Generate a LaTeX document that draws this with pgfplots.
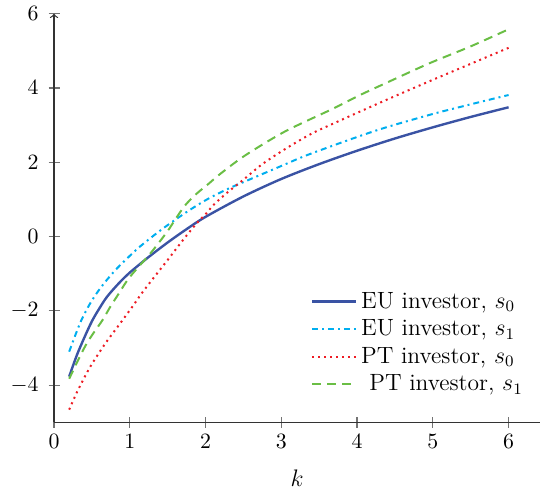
\documentclass[border=0pt]{standalone}
\usepackage{pgfplots}
\pgfplotsset{compat=1.18}
\definecolor{eublue}{RGB}{58,83,164}
\definecolor{eucyan}{RGB}{0,174,239}
\definecolor{ptred}{RGB}{237,28,36}
\definecolor{ptgreen}{RGB}{106,190,69}
\begin{document}
\begin{tikzpicture}
\begin{axis}[
  scale only axis,
  width=244pt, height=205pt,
  xmin=0, xmax=6.42, ymin=-5, ymax=6,
  axis lines=left,
  x axis line style={-},
  y axis line style={->},
  axis line style={black!80, line width=0.6pt},
  xtick={0,1,2,3,4,5,6},
  ytick={-4,-2,0,2,4,6},
  tick align=center,
  major tick length=5.5pt,
  tick style={black!55, line width=0.6pt},
  ticklabel style={font=\fontsize{10.5}{12}\selectfont},
  yticklabel style={xshift=-1.5pt},
  xlabel={$k$},
  xlabel style={font=\fontsize{12}{14}\selectfont, yshift=-3.5pt},
  legend cell align=left,
  legend style={at={(0.985,0.05)}, anchor=south east, draw=none, fill=none,
    font=\fontsize{11.8}{13}\selectfont, row sep=0.2pt},
  legend image code/.code={\draw[#1] (0pt,0pt) -- (22pt,0pt);},
]
\addplot[eublue, line width=1.2pt, smooth] coordinates {
(0.2,-3.77)(0.3,-3.2)(0.4,-2.72)(0.5,-2.28)(0.6,-1.93)(0.7,-1.62)(0.85,-1.27)(1.0,-0.97)(1.25,-0.55)(1.5,-0.16)(1.75,0.2)(2,0.53)(2.5,1.08)(3,1.55)(3.5,1.95)(4,2.31)(4.5,2.64)(5,2.94)(5.5,3.22)(6,3.48)};
\addlegendentry{EU investor, $s_0$}
\addplot[eucyan, line width=1pt, dashdotted, smooth] coordinates {
(0.2,-3.1)(0.35,-2.3)(0.5,-1.72)(0.66,-1.26)(0.83,-0.86)(1.0,-0.52)(1.14,-0.26)(1.42,0.19)(1.75,0.66)(2.02,1.0)(2.28,1.27)(2.54,1.5)(3.0,1.9)(3.35,2.2)(4.0,2.68)(4.4,2.95)(5.0,3.3)(5.5,3.56)(6,3.81)};
\addlegendentry{EU investor, $s_1$}
\addplot[ptred, line width=1pt, dotted, smooth] coordinates {
(0.2,-4.66)(0.3,-4.2)(0.4,-3.8)(0.5,-3.43)(0.68,-2.87)(0.85,-2.4)(1.03,-1.9)(1.15,-1.55)(1.3,-1.15)(1.5,-0.63)(1.7,-0.1)(1.88,0.35)(2.0,0.6)(2.1,0.84)(2.25,1.12)(2.4,1.37)(2.5,1.53)(2.75,1.95)(3.07,2.38)(3.4,2.77)(3.75,3.1)(4.1,3.42)(4.5,3.78)(5.0,4.22)(5.5,4.65)(6,5.08)};
\addlegendentry{PT investor, $s_0$}
\addplot[ptgreen, line width=1pt, dash pattern=on 4.5pt off 3pt, smooth] coordinates {
(0.2,-3.83)(0.31,-3.36)(0.42,-2.92)(0.52,-2.6)(0.64,-2.25)(0.74,-1.9)(0.85,-1.55)(0.97,-1.17)(1.1,-0.85)(1.27,-0.46)(1.49,0.12)(1.6,0.46)(1.73,0.84)(1.88,1.15)(2.04,1.42)(2.19,1.68)(2.52,2.18)(3.05,2.83)(3.68,3.44)(4.03,3.8)(4.4,4.15)(4.95,4.66)(5.5,5.12)(6,5.58)};
\addlegendentry{\hspace{0.35em}PT investor, $s_1$}
\end{axis}
\path ([xshift=-2pt]current bounding box.west);
\end{tikzpicture}
\end{document}
